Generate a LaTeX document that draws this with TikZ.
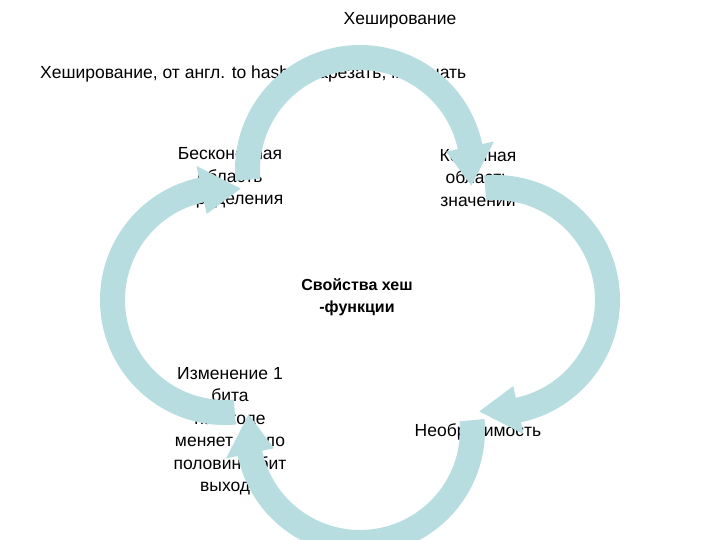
\documentclass[tikz,border=0pt]{standalone}
\usepackage{fontspec}
\setmainfont{Liberation Sans}
\usetikzlibrary{calc}
\begin{document}
\begin{tikzpicture}[x=1pt,y=1pt,
  txt/.style={align=center,font=\fontsize{17.5}{22.5}\selectfont,inner sep=0pt},
  arr/.style={fill=arrcol,draw=none}]
\definecolor{arrcol}{HTML}{B7DDE0}
\useasboundingbox (0,0) rectangle (720,540);
\fill[white] (0,0) rectangle (720,540);
\newcommand{\cyclearrow}[4]{% center, tail angle, base angle, tip angle
  \fill[arrcol] (#1) ++(#2:125) arc[start angle=#2,end angle=#3,radius=125]
    -- ($(#1)+(#3:137)$) -- ($(#1)+(#4:112.5)$) -- ($(#1)+(#3:88)$)
    -- ($(#1)+(#3:100)$) arc[start angle=#3,end angle=#2,radius=100] -- cycle;}
\node[txt] (t0) at (400,520) {Хеширование};
\node[txt,anchor=west] (t1) at (40,466) {Хеширование, от англ. to hash – нарезать, мельчать};
\node[txt] (a) at (230,362) {Бесконечная\\область\\определения};
\node[txt] (b) at (478,362) {Конечная\\область\\значении};
\node[txt,font=\bfseries\fontsize{16}{22.5}\selectfont] (c) at (357,243) {Свойства хеш\\-функции};
\node[txt] (d) at (230,109) {Изменение 1\\бита\\на входе\\меняет около\\половины бит\\выхода};
\node[txt] (e) at (478,108) {Необратимость};
\coordinate (ct) at (360,370);
\coordinate (cr) at (495,240);
\coordinate (cb) at (360,110);
\coordinate (cl) at (225,240);
\cyclearrow{ct}{185}{12}{-8}
\cyclearrow{cr}{95}{-78}{-98}
\cyclearrow{cb}{5}{-168}{-188}
\cyclearrow{cl}{-85}{-258}{-278}
\end{tikzpicture}
\end{document}
